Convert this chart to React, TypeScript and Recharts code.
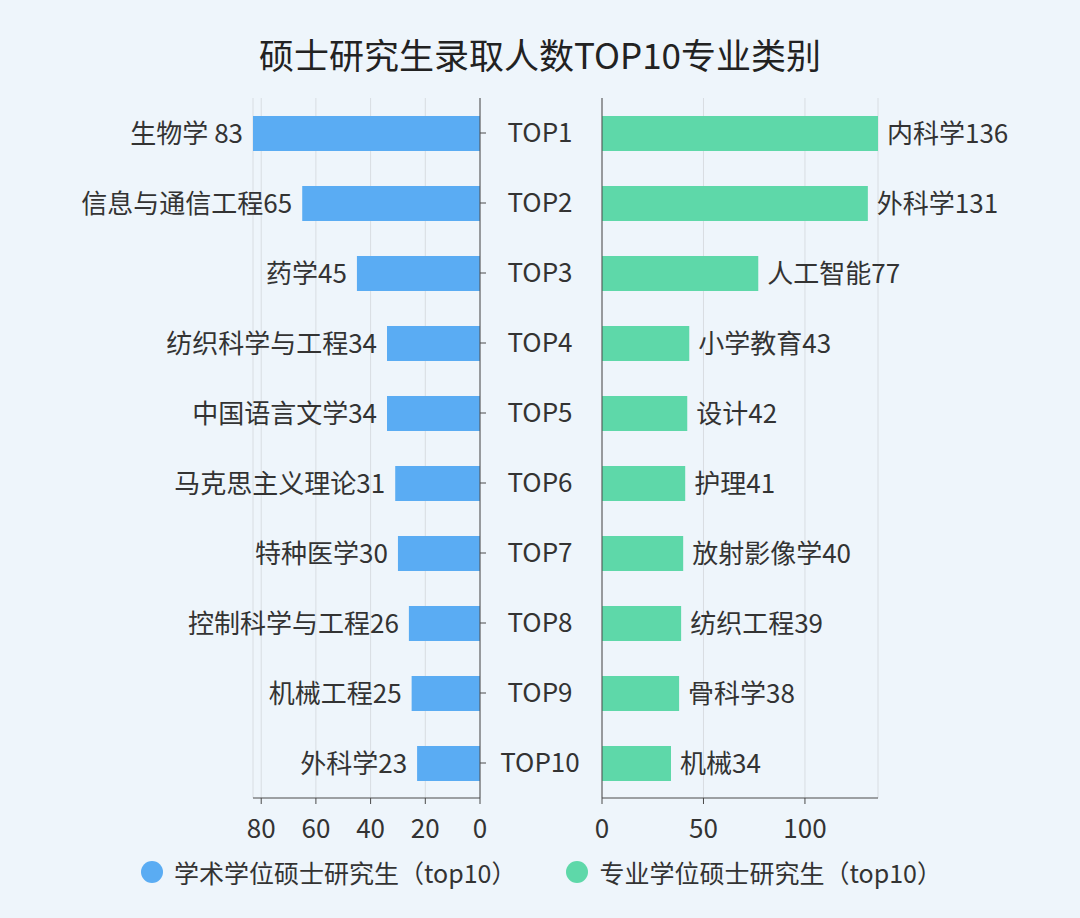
import React from 'react';
import { BarChart, Bar, XAxis, YAxis, CartesianGrid, LabelList } from 'recharts';

const ranks = ['TOP1', 'TOP2', 'TOP3', 'TOP4', 'TOP5', 'TOP6', 'TOP7', 'TOP8', 'TOP9', 'TOP10'];

const academicNames = ['生物学 ', '信息与通信工程', '药学', '纺织科学与工程', '中国语言文学', '马克思主义理论', '特种医学', '控制科学与工程', '机械工程', '外科学'];
const academicValues = [83, 65, 45, 34, 34, 31, 30, 26, 25, 23];

const professionalNames = ['内科学', '外科学', '人工智能', '小学教育', '设计', '护理', '放射影像学', '纺织工程', '骨科学', '机械'];
const professionalValues = [136, 131, 77, 43, 42, 41, 40, 39, 38, 34];

const leftTicks = [0, 20, 40, 60, 80];
const rightTicks = [0, 50, 100];

const BLUE = '#5aacf3';
const GREEN = '#5ed8a9';
const TEXT = '#333333';
const AXIS = '#4a4a4a';
const FONT = '"Noto Sans CJK SC", "Noto Sans", sans-serif';

const academicData = ranks.map((rank, i) => ({
  rank,
  value: academicValues[i],
  label: `${academicNames[i]}${academicValues[i]}`,
}));

const professionalData = ranks.map((rank, i) => ({
  rank,
  value: professionalValues[i],
  label: `${professionalNames[i]}${professionalValues[i]}`,
}));

// rank labels sit between the two charts
const RankTick = (props: any) => {
  const { x, y, payload } = props;
  return (
    <text x={x + 52} y={y} dy={9} textAnchor="middle" fill={TEXT} fontSize={26} fontFamily={FONT}>
      {payload.value}
    </text>
  );
};

const legendItems = [
  { name: '学术学位硕士研究生（top10）', color: BLUE },
  { name: '专业学位硕士研究生（top10）', color: GREEN },
];

export default function App() {
  return (
    <div
      style={{
        position: 'relative',
        width: 1080,
        height: 918,
        background: '#eef5fb',
        fontFamily: FONT,
        overflow: 'hidden',
      }}
    >
      <style>{`body { margin: 0; }`}</style>
      <div
        style={{
          position: 'absolute',
          top: 28,
          left: 0,
          width: 1080,
          textAlign: 'center',
          fontSize: 35,
          fontWeight: 'normal',
          color: '#222',
        }}
      >
        硕士研究生录取人数TOP10专业类别
      </div>

      <div style={{ position: 'absolute', left: 0, top: 0 }}>
        <BarChart
          width={600}
          height={850}
          data={academicData}
          layout="vertical"
          margin={{ top: 98, right: 0, left: 253, bottom: 0 }}
        >
          <CartesianGrid horizontal={false} stroke="#d8dde2" />
          <XAxis
            type="number"
            reversed
            domain={[0, 'dataMax']}
            ticks={leftTicks}
            height={52}
            tickMargin={16}
            tick={{ fill: TEXT, fontSize: 26, fontFamily: FONT }}
            stroke={AXIS}
          />
          <YAxis
            type="category"
            dataKey="rank"
            orientation="right"
            width={120}
            tick={<RankTick />}
            stroke={AXIS}
          />
          <Bar dataKey="value" fill={BLUE} barSize={35} isAnimationActive={false}>
            {/* axis is reversed, so "right" lands on the outer (left) end */}
            <LabelList
              dataKey="label"
              position="right"
              offset={10}
              fill={TEXT}
              fontSize={26}
              fontFamily={FONT}
            />
          </Bar>
        </BarChart>
      </div>

      <div style={{ position: 'absolute', left: 480, top: 0 }}>
        <BarChart
          width={600}
          height={850}
          data={professionalData}
          layout="vertical"
          margin={{ top: 98, right: 202, left: 0, bottom: 0 }}
        >
          <CartesianGrid horizontal={false} stroke="#d8dde2" />
          <XAxis
            type="number"
            domain={[0, 'dataMax']}
            ticks={rightTicks}
            height={52}
            tickMargin={16}
            tick={{ fill: TEXT, fontSize: 26, fontFamily: FONT }}
            stroke={AXIS}
          />
          <YAxis type="category" dataKey="rank" width={122} tick={false} stroke={AXIS} />
          <Bar dataKey="value" fill={GREEN} barSize={35} isAnimationActive={false}>
            <LabelList
              dataKey="label"
              position="right"
              offset={9}
              fill={TEXT}
              fontSize={26}
              fontFamily={FONT}
            />
          </Bar>
        </BarChart>
      </div>

      <div
        style={{
          position: 'absolute',
          top: 854,
          left: 141,
          display: 'flex',
          gap: 50,
          fontSize: 25,
          lineHeight: '36px',
          color: TEXT,
        }}
      >
        {legendItems.map((item) => (
          <div key={item.name} style={{ display: 'flex', alignItems: 'center' }}>
            <span
              style={{
                display: 'inline-block',
                width: 22,
                height: 22,
                borderRadius: '50%',
                background: item.color,
                marginRight: 11,
              }}
            />
            <span>{item.name}</span>
          </div>
        ))}
      </div>
    </div>
  );
}
